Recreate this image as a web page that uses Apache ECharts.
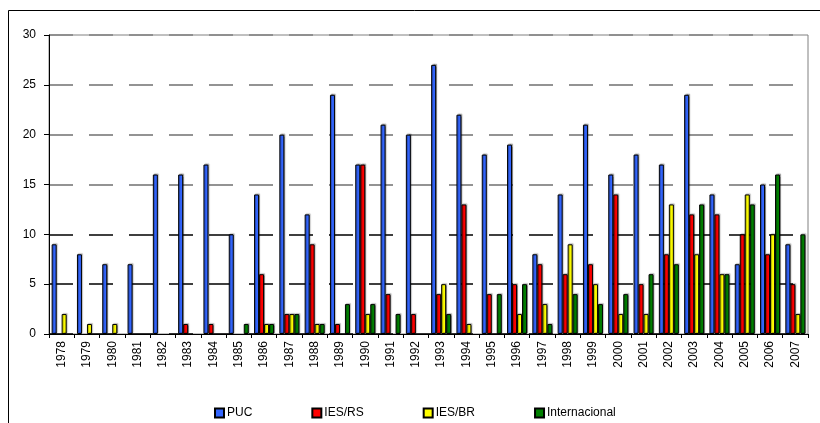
<!DOCTYPE html>
<html>
<head>
<meta charset="utf-8">
<script src="https://cdn.jsdelivr.net/npm/echarts@6/dist/echarts.min.js"></script>
<style>
html,body{margin:0;padding:0;background:#fff;}
#c{width:820px;height:423px;}
</style>
</head>
<body>
<div id="c"></div>
<script>
var years = ['1978','1979','1980','1981','1982','1983','1984','1985','1986','1987','1988','1989','1990','1991','1992','1993','1994','1995','1996','1997','1998','1999','2000','2001','2002','2003','2004','2005','2006','2007'];
var puc   = [9,8,7,7,16,16,17,10,14,20,12,24,17,21,20,27,22,18,19,8,14,21,16,18,17,24,14,7,15,9];
var iesRS = [0,0,0,0,0,1,1,0,6,2,9,1,17,4,2,4,13,4,5,7,6,7,14,5,8,12,12,10,8,5];
var iesBR = [2,1,1,0,0,0,0,0,1,2,1,0,2,0,0,5,1,0,2,3,9,5,2,2,13,8,6,14,10,2];
var intl  = [0,0,0,0,0,0,0,1,1,2,1,3,3,2,0,2,0,4,5,1,4,3,4,6,7,13,6,13,16,10];
var yTicks = [0,5,10,15,20,25,30];

var names = ['PUC','IES/RS','IES/BR','Internacional'];
var colors = ['#3366FF','#FF0000','#FFFF00','#008000'];
var datas = [puc, iesRS, iesBR, intl];

var chart = echarts.init(document.getElementById('c'));
var font = 'Arial, "Liberation Sans", sans-serif';
var series = datas.map(function(d, i){
  return {
    name: names[i],
    type: 'bar',
    data: d.map(function(v){ return v === 0 ? null : v; }),
    barWidth: 5,
    barGap: '0%',
    barCategoryGap: 0,
    itemStyle: {
      color: colors[i],
      borderColor: '#000',
      borderWidth: 1,
      shadowColor: 'rgba(0,0,0,0.3)',
      shadowOffsetX: 1,
      shadowOffsetY: -1,
      shadowBlur: 1
    },
    emphasis: {disabled: true}
  };
});

chart.setOption({
  animation: false,
  backgroundColor: '#fff',
  graphic: [{
    type: 'rect',
    shape: {x: 8.5, y: 10.5, width: 1000, height: 1000},
    style: {fill: 'none', stroke: '#000', lineWidth: 1},
    z: -1
  }],
  grid: {
    left: 49, top: 35, width: 759, height: 299,
    show: true, borderColor: '#808080', borderWidth: 1, backgroundColor: 'transparent'
  },
  legend: {
    data: names,
    left: 209, top: 402,
    itemWidth: 9, itemHeight: 9, itemGap: 59,
    icon: 'rect',
    textStyle: {fontFamily: font, fontSize: 12, color: '#000', padding: [0,0,0,-2]},
    selectedMode: false
  },
  xAxis: {
    type: 'category',
    data: years,
    axisLine: {lineStyle: {color: '#000', width: 1}},
    axisTick: {show: true, interval: 0, length: 4, lineStyle: {color: '#000'}},
    axisLabel: {interval: 0, rotate: 90, margin: 7, fontFamily: font, fontSize: 12, color: '#000'},
    splitLine: {show: false}
  },
  yAxis: {
    type: 'value',
    min: yTicks[0], max: yTicks[yTicks.length-1], interval: 5,
    axisLine: {show: true, lineStyle: {color: '#000', width: 1}},
    axisTick: {show: true, length: 5, lineStyle: {color: '#000'}},
    axisLabel: {margin: 13, fontFamily: font, fontSize: 12, color: '#000'},
    splitLine: {
      show: true,
      lineStyle: {
        color: ['#000','#000','#000','#707070','#707070','#707070','#808080'],
        width: 1.5,
        type: [24, 16]
      }
    }
  },
  series: series
});
</script>
</body>
</html>
